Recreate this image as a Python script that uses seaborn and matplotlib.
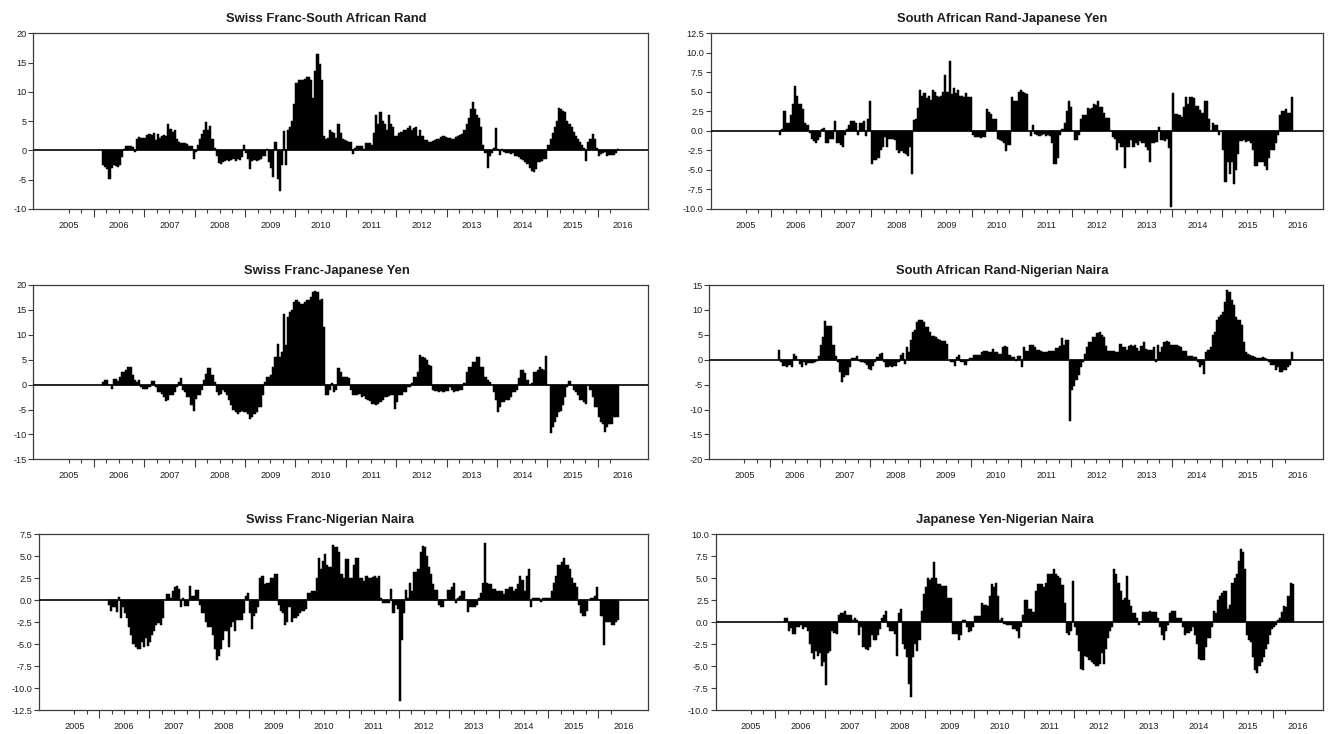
import numpy as np
import pandas as pd
import matplotlib
matplotlib.use("Agg")
import matplotlib.pyplot as plt
from matplotlib.ticker import FormatStrFormatter
import seaborn as sns

# Semi-monthly observations, March 2006 to May 2016 (one row per calendar year)
chf_zar = [
    -2.5, -2.8, -3.2, -4.8, -3.0, -2.5, -2.6, -2.8, -2.5, -1.2, 0.3, 0.7, 0.8, 0.8, 0.6, -0.3, 2.0, 2.3, 2.2, 2.1,
    2.2, 2.6, 2.8, 2.7, 2.9, 1.8, 2.8, 2.2, 2.5, 2.6, 2.5, 4.5, 3.6, 3.2, 3.5, 2.0, 1.5, 1.3, 1.2, 1.2, 1.1, 0.8, 0.8, -1.5,
    -0.3, 1.0, 2.0, 2.8, 3.5, 4.8, 3.5, 4.2, 2.0, 0.5, -1.0, -2.2, -2.4, -2.0, -1.8, -1.7, -1.8, -1.6, -1.5, -1.8, -1.5, -1.6, -1.2, 0.9,
    -0.5, -1.5, -3.2, -1.8, -1.7, -1.8, -1.6, -1.5, -1.0, -1.0, 0.3, -2.0, -3.0, -4.5, 1.5, -4.8, -7.0, -2.5, 3.3, -2.5, 3.5, 4.0, 5.0, 8.0,
    11.5, 12.0, 12.0, 12.0, 12.2, 12.5, 12.6, 12.0, 9.0, 13.5, 16.5, 14.8, 12.0, 2.5, 2.0, 2.2, 3.5, 3.2, 3.0, 2.2, 4.5, 3.0, 2.0, 1.8,
    1.6, 1.5, 1.5, -0.6, 0.5, 0.7, 0.8, 0.7, 0.3, 1.2, 1.3, 1.2, 1.0, 3.0, 6.0, 4.5, 6.5, 5.0, 4.5, 3.5, 6.0, 4.5, 4.0, 2.5,
    2.5, 3.0, 3.2, 3.5, 3.5, 3.8, 4.2, 3.5, 3.8, 4.0, 2.5, 3.5, 2.5, 1.8, 1.8, 1.5, 1.5, 1.6, 1.8, 2.0, 2.0, 2.3, 2.5, 2.3,
    2.2, 2.2, 2.0, 2.0, 2.3, 2.5, 2.6, 2.8, 3.5, 4.5, 5.5, 7.0, 8.3, 7.0, 6.0, 5.5, 4.0, 1.0, -0.5, -3.0, -1.0, -0.5, 0.5, 3.8,
    0.2, -0.8, 0.3, -0.3, -0.5, -0.5, -0.6, -0.5, -1.0, -1.0, -1.2, -1.5, -1.6, -2.0, -2.3, -3.0, -3.5, -3.7, -3.2, -2.0, -2.0, -1.8, -1.5, -1.5,
    1.0, 2.0, 3.0, 4.0, 5.0, 7.2, 7.0, 6.8, 6.5, 5.0, 4.5, 4.0, 3.2, 2.5, 2.0, 1.5, 1.0, 0.5, -1.8, 1.5, 2.0, 2.8, 2.0, 0.5,
    -1.0, -0.6, -0.5, -0.3, -1.0, -0.8, -0.8, -0.8, -0.5, 0.2,
]

zar_jpy = [
    -0.5, 0.3, 2.5, 1.0, 1.0, 2.0, 3.5, 5.8, 4.5, 3.5, 3.4, 2.8, 1.0, 0.8, -0.3, -1.0, -1.3, -1.5, -1.2, -0.8,
    0.3, 0.4, -1.5, -1.5, -1.0, -1.0, 1.3, -1.5, -1.5, -1.8, -2.0, -0.5, 0.3, 0.8, 1.3, 1.3, 1.0, -0.5, 1.0, 1.0, 1.3, -0.7, 1.5, 3.8,
    -4.2, -3.7, -3.7, -3.5, -2.5, -2.0, -0.8, -2.0, -1.0, -1.0, -1.0, -1.2, -2.5, -2.8, -2.6, -2.8, -3.0, -3.2, -2.0, -5.5, 1.4, 1.5, 2.9, 5.3,
    4.5, 4.8, 4.2, 4.5, 4.0, 5.2, 5.0, 4.5, 4.3, 4.5, 5.0, 7.2, 5.0, 9.0, 4.7, 5.5, 4.8, 5.2, 4.5, 4.5, 4.4, 4.8, 4.3, 4.3,
    -0.5, -0.8, -0.8, -0.8, -0.9, -0.8, -0.8, 2.8, 2.4, 2.2, 1.5, 1.5, -1.0, -1.2, -1.3, -1.5, -2.6, -1.8, -1.8, 4.3, 3.8, 3.8, 5.0, 5.2,
    5.0, 4.8, 4.7, 0.0, -0.6, 0.7, -0.4, -0.5, -0.6, -0.5, -0.4, -0.6, -0.5, -0.7, -1.5, -4.2, -4.2, -3.5, -0.5, 0.3, 1.0, 2.5, 3.8, 3.0,
    0.0, -1.2, -1.2, -0.5, 1.5, 2.0, 2.0, 2.9, 2.8, 2.9, 3.5, 3.3, 3.8, 3.0, 3.0, 2.3, 1.6, 1.6, 0.0, -0.8, -1.0, -2.5, -1.5, -2.0,
    -2.0, -4.7, -2.0, -2.0, -1.2, -2.0, -1.5, -1.8, -1.3, -1.5, -1.5, -2.0, -2.5, -4.0, -1.5, -1.5, -1.4, 0.5, -1.2, -1.2, -1.3, -1.0, -2.2, -9.7,
    4.8, 2.2, 2.2, 2.0, 1.8, 3.0, 4.3, 3.5, 4.3, 4.3, 4.2, 3.2, 3.2, 2.7, 2.3, 3.8, 3.8, 1.5, 0.0, 1.0, 0.8, 0.8, -0.5, 0.0,
    -2.5, -6.5, -4.0, -5.5, -4.0, -6.8, -5.0, -3.0, -1.3, -1.3, -1.2, -1.4, -1.3, -1.5, -2.5, -4.5, -4.5, -4.0, -4.0, -4.0, -4.5, -5.0, -3.5, -2.5,
    -2.5, -1.5, -0.5, 2.0, 2.5, 2.5, 2.8, 2.3, 2.3, 4.3,
]

chf_jpy = [
    0.5, 1.0, 1.0, 0.0, -0.8, 1.2, 1.2, 0.8, 1.5, 2.5, 2.5, 3.0, 3.5, 3.5, 2.0, 1.0, 0.5, 1.0, -0.5, -0.8,
    -0.8, -0.8, -0.5, 0.8, 0.8, -0.5, -1.5, -1.5, -1.8, -2.5, -3.2, -3.0, -2.0, -2.0, -1.5, -0.5, 0.5, 1.3, -1.0, -1.5, -2.5, -2.5, -4.0, -5.3,
    -2.8, -2.0, -2.0, -1.0, 1.0, 2.2, 3.3, 3.3, 2.0, 0.5, -1.5, -2.0, -1.8, -1.0, -1.5, -2.0, -3.0, -4.0, -5.0, -5.5, -6.0, -5.5, -5.3, -5.5,
    -5.5, -6.0, -7.0, -6.5, -6.0, -5.5, -4.5, -4.5, -2.0, 0.5, 1.5, 1.5, 2.0, 3.5, 5.5, 8.2, 5.5, 6.5, 14.2, 8.0, 13.5, 14.5, 15.0, 16.5,
    17.0, 16.5, 16.2, 16.2, 16.5, 17.0, 17.0, 17.5, 18.5, 18.8, 18.5, 17.0, 17.2, 11.5, -2.0, -2.0, -1.0, 0.3, -1.5, -1.0, 3.3, 2.5, 1.5, 1.5,
    1.5, 1.3, -1.0, -2.0, -2.0, -2.0, -1.8, -2.5, -2.2, -2.8, -3.0, -3.2, -3.8, -3.8, -4.0, -3.8, -3.5, -3.0, -2.5, -2.5, -2.3, -2.0, -2.0, -4.8,
    -3.5, -2.0, -2.0, -1.5, -1.5, -0.5, -0.5, 0.3, 1.5, 1.5, 2.5, 6.0, 5.5, 5.3, 5.0, 4.0, 3.8, -1.0, -1.2, -1.3, -1.4, -1.3, -1.5, -1.3,
    -1.2, -0.5, -1.0, -1.5, -1.2, -1.2, -1.0, -1.0, 0.3, 2.5, 3.5, 3.5, 4.5, 4.5, 5.5, 5.5, 3.5, 3.5, 1.5, 1.0, 0.5, 0.0, -1.5, -3.0,
    -5.5, -4.5, -3.5, -3.5, -3.0, -3.0, -2.5, -1.5, -1.5, -1.0, 1.3, 3.0, 3.0, 2.3, 1.0, 0.0, 0.3, 2.5, 2.5, 3.0, 3.5, 3.2, 3.0, 5.8,
    0.0, -9.8, -8.5, -7.5, -6.5, -5.5, -5.3, -4.0, -2.5, -0.5, 0.8, 0.0, -1.0, -1.5, -2.0, -3.0, -3.0, -3.5, -3.8, 0.0, -1.0, -2.5, -4.5, -4.5,
    -6.5, -7.5, -8.0, -9.5, -8.5, -8.0, -8.0, -6.5, -6.5, -6.5,
]

zar_ngn = [
    2.0, -0.5, -1.3, -1.3, -1.5, -1.0, -1.5, 1.2, 0.8, 0.0, -0.8, -1.5, -0.5, -1.0, -0.6, -0.6, -0.6, -0.5, -0.3, 0.8,
    3.0, 4.5, 7.7, 6.8, 6.8, 6.8, 3.0, 0.8, -0.5, -2.5, -4.5, -3.5, -3.0, -3.0, -1.5, 0.3, 0.3, 0.8, -0.3, -0.5, -0.5, -0.7, -1.0, -1.8,
    -2.0, -1.2, -0.5, 0.5, 1.2, 1.3, -0.5, -1.5, -1.5, -1.3, -1.4, -1.2, -1.2, -0.5, 1.0, 1.3, -0.8, 2.5, 1.5, 4.0, 5.5, 6.0, 7.5, 8.0,
    8.0, 7.5, 6.5, 6.5, 5.5, 4.8, 4.8, 4.5, 4.2, 4.0, 3.8, 3.8, 3.2, 0.0, -0.5, -0.5, -1.3, 0.5, 1.0, -0.5, -0.5, -1.0, -0.2, 0.3,
    0.3, 1.0, 1.0, 1.0, 1.0, 1.5, 1.8, 1.7, 1.5, 1.5, 2.2, 1.5, 1.5, 1.2, 1.2, 2.5, 2.8, 2.5, 1.0, 0.5, 0.5, -0.3, 0.7, 0.7,
    -1.5, 2.5, 1.8, 1.8, 3.0, 3.0, 2.5, 2.0, 2.0, 1.8, 1.5, 1.5, 1.5, 1.8, 1.8, 1.8, 2.3, 2.3, 2.8, 4.3, 3.0, 4.0, 4.0, -12.3,
    -6.0, -5.3, -4.0, -3.0, -1.5, -0.5, 1.2, 2.5, 3.5, 3.5, 4.5, 4.5, 5.3, 5.5, 5.0, 4.5, 2.8, 1.8, 1.8, 1.7, 1.8, 1.5, 1.5, 3.2,
    2.5, 2.5, 2.0, 2.8, 3.0, 2.8, 3.0, 2.3, 1.8, 2.8, 3.5, 2.2, 2.0, 2.0, 2.0, 2.5, -0.5, 3.0, 1.5, 2.5, 3.5, 3.8, 3.5, 3.0,
    3.0, 3.0, 3.0, 2.8, 2.5, 1.8, 1.8, 0.8, 0.8, 0.8, 0.5, 0.5, -0.5, -1.5, -1.0, -2.8, 1.5, 2.0, 2.5, 5.0, 5.5, 8.0, 8.5, 9.0,
    9.5, 11.5, 14.0, 13.5, 12.0, 11.0, 8.5, 8.0, 8.0, 7.0, 3.5, 1.5, 1.2, 1.0, 0.8, 0.5, 0.3, 0.4, 0.3, 0.5, 0.3, 0.2, -0.5, -1.0,
    -1.0, -2.0, -1.5, -2.5, -2.5, -2.0, -2.0, -1.5, -1.0, 1.5,
]

chf_ngn = [
    -0.5, -1.2, -0.8, -0.8, -1.3, 0.4, -2.0, -0.8, -1.5, -2.0, -3.0, -4.0, -5.0, -5.3, -5.5, -5.5, -4.8, -5.3, -4.3, -5.2,
    -4.8, -4.0, -3.5, -2.8, -2.6, -2.8, -2.0, 0.0, 0.7, 0.7, 0.3, 1.0, 1.5, 1.6, 1.3, -0.8, 0.3, -0.7, -0.7, 1.6, 0.5, 0.5, 1.2, 1.2,
    -0.5, -1.5, -1.5, -2.5, -3.0, -3.0, -4.0, -5.5, -6.8, -6.3, -5.5, -4.5, -3.5, -3.5, -5.3, -3.0, -2.5, -3.5, -2.2, -2.2, -2.2, -1.5, 0.5, 0.8,
    -1.5, -3.3, -1.8, -1.5, -0.8, 2.5, 2.7, 1.8, 2.0, 2.0, 2.5, 2.5, 3.0, 3.0, -0.5, -1.2, -1.5, -2.8, -2.5, -0.8, -2.5, -2.0, -2.0, -1.8,
    -1.5, -1.2, -1.2, -1.0, 0.8, 0.8, 1.0, 1.0, 2.5, 4.8, 3.5, 4.5, 5.3, 4.0, 3.8, 3.8, 6.3, 6.0, 6.0, 5.5, 3.0, 2.5, 4.7, 4.7,
    2.5, 2.5, 4.0, 4.8, 4.8, 2.5, 2.5, 2.2, 2.8, 2.5, 2.5, 2.6, 2.8, 2.5, 2.8, 0.2, -0.3, -0.3, -0.3, -0.3, 1.3, -1.5, -0.5, -1.0,
    -11.5, -4.5, -1.5, 1.2, 0.3, 2.0, 1.0, 3.2, 3.2, 3.5, 5.5, 6.2, 6.0, 5.0, 3.8, 3.0, 1.8, 1.2, 1.2, -0.5, -0.8, -0.8, 0.0, 1.2,
    1.2, 1.5, 2.0, -0.3, 0.3, 0.5, 1.0, 1.0, 0.0, -1.4, -0.8, -0.8, -0.8, -0.5, 0.3, 0.8, 2.0, 6.5, 2.0, 1.8, 1.8, 1.3, 1.3, 1.0,
    1.0, 1.0, 0.7, 1.3, 1.3, 1.5, 1.5, 1.0, 1.3, 1.8, 2.8, 2.3, 1.0, 2.8, 3.5, -0.8, 0.3, 0.2, 0.2, 0.2, -0.2, 0.3, 0.2, 0.2,
    0.2, 1.0, 2.0, 2.8, 4.0, 4.0, 4.3, 4.8, 4.0, 4.0, 3.5, 2.5, 2.0, 1.5, -0.5, -1.5, -1.8, -1.8, -1.2, 0.0, 0.2, 0.2, 0.5, 1.5,
    0.0, -1.8, -5.1, -2.5, -2.5, -2.5, -2.8, -2.8, -2.5, -2.2,
]

jpy_ngn = [
    0.5, 0.5, -1.0, -0.7, -1.3, -1.3, -0.5, -0.6, -0.3, -0.8, -0.5, -1.0, -2.5, -3.5, -4.2, -3.3, -3.8, -3.5, -5.0, -4.5,
    -7.2, -3.5, -3.3, -1.0, -1.2, -1.3, 0.8, 1.0, 1.0, 1.3, 0.8, 0.8, 0.8, 0.3, 0.5, 0.3, -1.5, -0.5, -2.8, -3.0, -3.2, -2.8, -1.5, -2.0,
    -2.0, -1.5, -0.8, 0.5, 0.8, 1.3, -0.5, -1.0, -1.0, -1.3, -3.8, 1.0, 1.5, -2.5, -3.0, -4.0, -7.0, -8.5, -4.0, -2.5, -3.3, -2.0, 1.3, 3.2,
    4.0, 5.0, 4.8, 5.0, 6.8, 5.0, 4.3, 4.3, 4.1, 4.1, 4.1, 2.7, 2.7, -1.3, -1.4, -1.4, -2.0, -1.5, 0.3, 0.3, -0.5, -1.1, -1.0, -0.5,
    0.7, 0.7, 0.7, 2.2, 2.0, 2.0, 1.8, 3.0, 4.3, 4.0, 4.5, 3.0, 0.3, 0.5, -0.2, -0.3, -0.3, -0.3, -0.8, -0.8, -1.0, -1.8, -0.5, 0.8,
    2.5, 2.5, 1.5, 1.5, 1.2, 3.5, 4.3, 4.3, 4.3, 4.0, 4.5, 5.5, 5.5, 5.5, 6.0, 5.5, 5.3, 5.0, 4.2, 2.2, -1.2, -1.5, -1.0, 4.7,
    -0.5, -1.5, -3.3, -5.3, -5.5, -3.8, -4.0, -4.3, -4.5, -4.8, -5.0, -5.0, -4.8, -3.5, -4.8, -3.0, -1.8, -1.0, -0.5, 6.0, 5.5, 4.5, 3.5, 2.5,
    2.8, 5.2, 2.5, 1.8, 1.0, 1.0, 0.5, -0.3, 0.0, 1.1, 1.2, 1.2, 1.3, 1.2, 1.2, 1.1, 0.5, -0.5, -1.5, -2.0, -1.0, -0.3, 1.0, 1.3,
    1.3, 0.5, 0.5, 0.5, -0.5, -1.5, -1.2, -1.2, -1.0, -0.5, -1.5, -2.5, -4.2, -4.3, -4.3, -2.8, -1.8, -1.8, -0.5, 1.3, 1.0, 2.5, 3.0, 3.3,
    3.5, 3.5, 1.5, 2.0, 4.5, 5.0, 5.5, 7.0, 8.3, 8.0, 6.0, -1.5, -2.0, -2.3, -4.0, -5.5, -5.8, -5.0, -4.5, -4.0, -3.0, -2.5, -1.5, -0.8,
    -0.5, -0.3, 0.3, 0.5, 1.2, 1.8, 1.7, 3.0, 4.5, 4.3,
]

titles = [
    "Swiss Franc-South African Rand",
    "South African Rand-Japanese Yen",
    "Swiss Franc-Japanese Yen",
    "South African Rand-Nigerian Naira",
    "Swiss Franc-Nigerian Naira",
    "Japanese Yen-Nigerian Naira",
]
series = [chf_zar, zar_jpy, chf_jpy, zar_ngn, chf_ngn, jpy_ngn]
y_ranges = [(-10, 20), (-10, 12.5), (-15, 20), (-20, 15), (-12.5, 7.5), (-10, 10)]
y_steps = [5, 2.5, 5, 5, 2.5, 2.5]
year_labels = [str(y) for y in range(2005, 2017)]

# half-month observation dates -> decimal years (bar centres)
dates = pd.date_range("2006-03-01", periods=len(chf_zar), freq="SMS")
t = np.asarray(dates.year + (dates.month - 1) / 12 + (dates.day > 1) / 24 + 1 / 48, dtype=float)

sns.set_theme(style="white")
plt.rcParams["font.family"] = ["Liberation Sans Narrow", "Liberation Sans", "DejaVu Sans"]
plt.rcParams["axes.unicode_minus"] = False

W, H = 1332, 734
fig = plt.figure(figsize=(W / 100, H / 100), dpi=100)
fig.patch.set_facecolor("white")

# axes frames in pixels: left, right, top, bottom
frames = [
    (33.3, 648.3, 33.3, 209.0),
    (710.7, 1322.7, 33.3, 209.0),
    (33.3, 648.3, 285.0, 459.3),
    (709.3, 1322.7, 285.0, 459.3),
    (39.3, 648.3, 534.3, 710.0),
    (715.7, 1322.7, 534.3, 710.0),
]

frame_col = "#3c3c3c"
text_col = "#1e1e1e"

for title, vals, (lo, hi), step, (l, r, tp, bt) in zip(titles, series, y_ranges, y_steps, frames):
    ax = fig.add_axes([l / W, 1 - bt / H, (r - l) / W, (bt - tp) / H])
    df = pd.DataFrame({"date": t, "value": vals})
    sns.barplot(data=df, x="date", y="value", native_scale=True, width=1.0,
                color="black", saturation=1, errorbar=None,
                edgecolor="black", linewidth=0.35, ax=ax)
    ax.axhline(0, color="black", lw=1.2, zorder=3)

    ax.set_xlim(2004.8, 2017.0)
    ax.set_ylim(lo, hi)
    ax.set_xlabel("")
    ax.set_ylabel("")

    ax.set_yticks(np.arange(lo, hi + step / 2, step))
    ax.yaxis.set_major_formatter(FormatStrFormatter("%.1f" if step < 5 else "%d"))
    ax.set_xticks(np.arange(2006, 2017))
    quarters = [q for q in np.arange(2005.5, 2016.3, 0.25) if q % 1 != 0]
    ax.set_xticks(quarters, minor=True)
    ax.tick_params(axis="x", which="major", direction="out", length=6, width=0.8,
                   color=frame_col, labelbottom=False, bottom=True)
    ax.tick_params(axis="x", which="minor", direction="out", length=3, width=0.8,
                   color=frame_col, bottom=True)
    ax.tick_params(axis="y", which="major", direction="out", length=3.5, width=0.8,
                   color=frame_col, labelsize=6.6, labelcolor=text_col, pad=1.5, left=True)

    lab = ax.secondary_xaxis("bottom")
    lab.set_xticks(np.arange(2005.5, 2017.0, 1.0), labels=year_labels)
    lab.tick_params(length=0, pad=8.5, labelsize=6.6, labelcolor=text_col)
    lab.spines["bottom"].set_visible(False)

    for s in ax.spines.values():
        s.set_visible(True)
        s.set_color(frame_col)
        s.set_linewidth(0.9)

    ax.set_title(title, x=0.477, pad=8, fontsize=9.4, fontweight="bold", color=text_col)

fig.savefig("out.png", dpi=100, facecolor="white")
